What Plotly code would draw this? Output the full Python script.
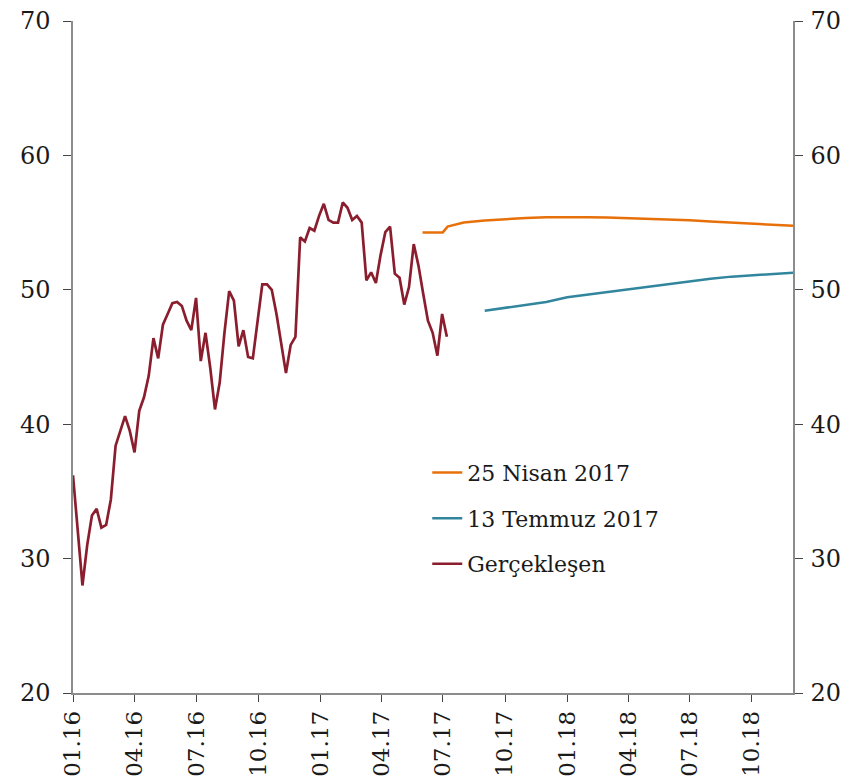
import pandas as pd
import plotly.graph_objects as go

# Gerçekleşen (weekly, from 2016-01-01)
actual_start = "2016-01-01"
actual_values = [
    36.2, 32.0, 28.0, 31.0, 33.2, 33.7, 32.3, 32.5, 34.4, 38.4,
    39.5, 40.6, 39.5, 37.9, 41.0, 42.0, 43.6, 46.4, 44.9, 47.4,
    48.2, 49.0, 49.1, 48.8, 47.7, 47.0, 49.4, 44.7, 46.8, 44.2,
    41.1, 43.1, 46.8, 49.9, 49.2, 45.8, 47.0, 45.0, 44.9, 47.7,
    50.4, 50.4, 50.0, 48.2, 46.0, 43.8, 45.9, 46.5, 53.9, 53.6,
    54.6, 54.4, 55.5, 56.4, 55.2, 55.0, 55.0, 56.5, 56.1, 55.2,
    55.5, 55.0, 50.7, 51.3, 50.5, 52.6, 54.3, 54.7, 51.2, 50.9,
    48.9, 50.2, 53.4, 51.8, 49.7, 47.7, 46.8, 45.1, 48.2, 46.5,
]
actual_dates = pd.date_range(actual_start, periods=len(actual_values), freq="7D")

# 25 Nisan 2017 projection
nisan_dates = ["2017-06-01", "2017-07-01", "2017-07-08", "2017-08-01", "2017-09-01",
               "2017-10-01", "2017-11-01", "2017-12-01", "2018-01-01", "2018-02-01",
               "2018-03-01", "2018-04-01", "2018-05-01", "2018-06-01", "2018-07-01",
               "2018-08-01", "2018-09-01", "2018-10-01", "2018-11-01", "2018-12-01"]
nisan_values = [54.27, 54.27, 54.70, 55.00, 55.15, 55.27, 55.35, 55.40, 55.42, 55.40,
                55.38, 55.34, 55.30, 55.24, 55.17, 55.08, 55.00, 54.92, 54.83, 54.76]

# 13 Temmuz 2017 projection
temmuz_dates = ["2017-09-01", "2017-10-01", "2017-11-01", "2017-12-01", "2018-01-01",
                "2018-02-01", "2018-03-01", "2018-04-01", "2018-05-01", "2018-06-01",
                "2018-07-01", "2018-08-01", "2018-09-01", "2018-10-01", "2018-11-01",
                "2018-12-01"]
temmuz_values = [48.44, 48.65, 48.88, 49.10, 49.45, 49.65, 49.85, 50.05, 50.25, 50.45,
                 50.65, 50.82, 50.98, 51.08, 51.18, 51.27]

FONT = "DejaVu Serif"
fig = go.Figure()
fig.add_trace(go.Scatter(x=nisan_dates, y=nisan_values, mode="lines", name="25 Nisan 2017",
                         line=dict(color="#E8700A", width=2.5), legendgroup="a",
                         yaxis="y2"))
fig.add_trace(go.Scatter(x=temmuz_dates, y=temmuz_values, mode="lines", name="13 Temmuz 2017",
                         line=dict(color="#31869E", width=2.5), legendgroup="b",
                         yaxis="y2"))
fig.add_trace(go.Scatter(x=actual_dates, y=actual_values, mode="lines", name="Gerçekleşen",
                         line=dict(color="#8B1E2E", width=2.7), legendgroup="c"))

axis_common = dict(showgrid=False, zeroline=False, showline=True,
                   linecolor="#8c8c8c", linewidth=1.5, ticks="outside",
                   tickcolor="#444444", automargin=False,
                   ticklabeloverflow="allow")

fig.update_layout(
    width=866, height=778,
    margin=dict(l=65, r=81, t=13, b=93),
    paper_bgcolor="white", plot_bgcolor="white",
    font=dict(family=FONT, size=22, color="#1a1a1a"),
    showlegend=True,
    legend=dict(x=0.492, y=0.359, xanchor="left", yanchor="top",
                bgcolor="rgba(0,0,0,0)", font=dict(family=FONT, size=22),
                traceorder="grouped", tracegroupgap=14),
    xaxis=dict(type="date", range=["2016-01-01", "2018-12-01"],
               tick0="2016-01-01", dtick="M3", tickformat="%m.%y",
               tickangle=-90, ticklen=7, ticklabelstandoff=0,
               tickfont=dict(family=FONT, size=23), **axis_common),
    yaxis=dict(range=[20, 70], dtick=10, ticklen=8, ticklabelstandoff=8,
               tickfont=dict(family=FONT, size=24), **axis_common),
    yaxis2=dict(range=[20, 70], dtick=10, overlaying="y", side="right",
                ticklen=8, ticklabelstandoff=3,
                tickfont=dict(family=FONT, size=24), **axis_common),
)
fig.write_html("out.html")
